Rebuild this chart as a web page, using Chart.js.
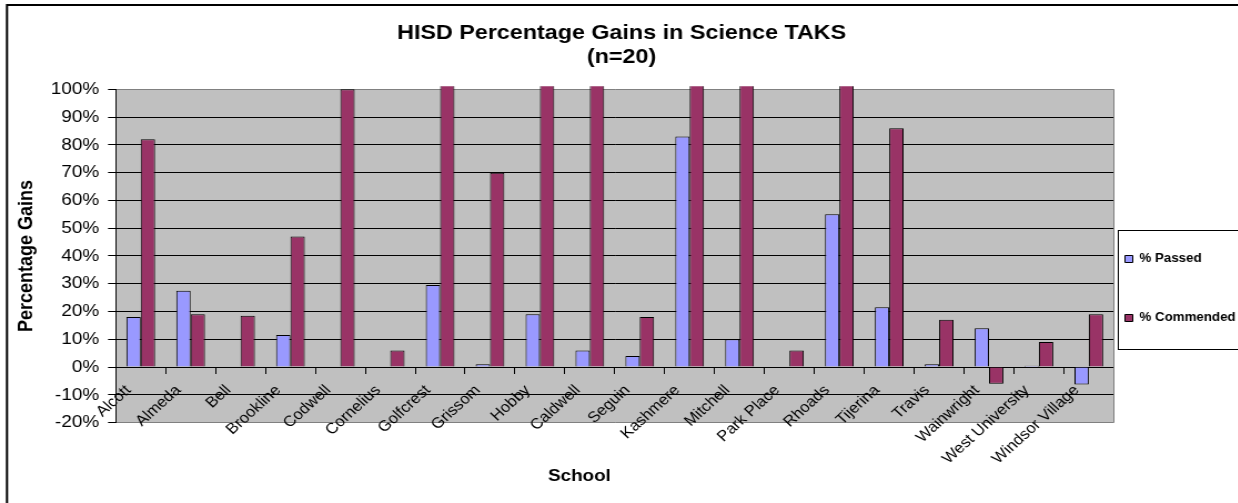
<!DOCTYPE html>
<html><head><meta charset="utf-8">
<script src="https://cdn.jsdelivr.net/npm/chart.js@4.4.1/dist/chart.umd.min.js"></script>
<style>
html,body{margin:0;padding:0;background:#fff;overflow:hidden;width:1238px;height:503px;}
#wrap{width:1120px;height:503px;transform:scaleX(1.11);transform-origin:0 0;}
canvas{display:block;}
</style></head><body>
<div id="wrap"><canvas id="c" width="1120" height="503"></canvas></div>
<script>
const titleLines = ['HISD Percentage Gains in Science TAKS', '(n=20)'];
const categories = ['Alcott','Almeda','Bell','Brookline','Codwell','Cornelius','Golfcrest','Grissom','Hobby','Caldwell','Seguin','Kashmere','Mitchell','Park Place','Rhoads','Tijerina','Travis','Wainwright','West University','Windsor Village'];
const passed    = [18, 27.5, 0, 11.5, 0, 0, 29.5, 1, 19, 6, 4, 83, 10, 0, 55, 21.5, 1, 14, 0.5, -6.3];
const commended = [82, 19, 18.5, 47, 100, 6, 110, 70, 110, 110, 18, 110, 110, 6, 110, 86, 17, -6, 9, 19];
const yMin = -20, yMax = 100, yStep = 10;
const seriesNames = ['% Passed', '% Commended'];

Chart.defaults.font.family = "'Liberation Sans', Arial, sans-serif";
Chart.defaults.color = '#000';

const LEG_MARK_X = 1013.5, LEG_PAD = 47;

const deco = {
  id: 'deco',
  beforeDraw(chart) {
    const {ctx, chartArea: a} = chart;
    ctx.save();
    ctx.fillStyle = '#fff';
    ctx.fillRect(0, 0, chart.width, chart.height);
    ctx.fillStyle = '#C0C0C0';
    ctx.fillRect(a.left, a.top, a.right - a.left, a.bottom - a.top);
    ctx.restore();
  },
  afterLayout(chart) {
    const lg = chart.legend;
    lg.left = LEG_MARK_X - LEG_PAD;
    lg.top = 253 - LEG_PAD;
    lg.bottom = 503;
    chart.boxes.forEach(b => {
      if (b.options && b.options.text === 'School') { b.left -= 38; b.right -= 38; }
    });
  },
  afterDraw(chart) {
    const {ctx, chartArea: a} = chart;
    ctx.save();
    ctx.strokeStyle = '#808080';
    ctx.lineWidth = 1;
    ctx.beginPath();
    ctx.moveTo(Math.round(a.right) + 0.5, a.top);
    ctx.lineTo(Math.round(a.right) + 0.5, a.bottom);
    ctx.stroke();
    ctx.strokeStyle = '#000';
    ctx.lineWidth = 1;
    ctx.strokeRect(1007.5, 230.5, 400, 119);
    ctx.lineWidth = 2;
    ctx.strokeRect(6.3, 5, 3000, 3000);
    ctx.restore();
  }
};

new Chart(document.getElementById('c'), {
  type: 'bar',
  data: {
    labels: categories,
    datasets: [
      { label: seriesNames[0], data: passed, backgroundColor: '#9999FF', borderColor: '#000', borderWidth: 1,
        categoryPercentage: 0.575, barPercentage: 1.0, clip: {left: 0, top: 3, right: 0, bottom: 0} },
      { label: seriesNames[1], data: commended, backgroundColor: '#993366', borderColor: '#000', borderWidth: 1,
        categoryPercentage: 0.575, barPercentage: 1.0, clip: {left: 0, top: 3, right: 0, bottom: 0} }
    ]
  },
  options: {
    responsive: false,
    animation: false,
    layout: { padding: 0 },
    plugins: {
      title: { display: true, text: titleLines, font: { size: 21, weight: 'bold', lineHeight: 1.15 }, color: '#000',
               padding: { top: 21, bottom: 20 } },
      subtitle: { display: true, position: 'bottom', text: 'School', font: { size: 17, weight: 'bold', lineHeight: 1.2 }, color: '#000',
               padding: { top: 44, bottom: 16 } },
      legend: { position: 'right', align: 'start', maxWidth: 1120 - 1003.4,
        labels: { boxWidth: 7, boxHeight: 7, padding: LEG_PAD, color: '#000', font: { size: 12, weight: 'bold' } } },
      tooltip: { enabled: false }
    },
    scales: {
      y: {
        min: yMin, max: yMax,
        afterFit(scale) { scale.width = 104.3; },
        ticks: { stepSize: yStep, callback: v => v + '%', font: { size: 17 }, color: '#000', padding: 8 },
        grid: { color: c => (c.tick && (c.tick.value === yMax || c.tick.value === yMin)) ? '#808080' : '#000',
                tickColor: '#000', tickLength: 7, lineWidth: 1 },
        border: { display: true, color: '#000', width: 1 },
        title: { display: true, text: 'Percentage Gains', font: { size: 18, weight: 'bold', lineHeight: 1.2 }, color: '#000',
                 padding: { top: 13.5, bottom: 0 } }
      },
      x: {
        position: { y: 0 },
        afterFit(scale) { scale.height = 0; },
        offset: true,
        ticks: { autoSkip: false, minRotation: 45, maxRotation: 45, font: { size: 15 }, color: '#000', padding: 8.5, labelOffset: -11 },
        grid: { offset: true, drawOnChartArea: false, drawTicks: true, tickLength: 6, color: '#000' },
        border: { display: true, color: '#000', width: 1 }
      }
    }
  },
  plugins: [deco]
});
</script>
</body></html>
